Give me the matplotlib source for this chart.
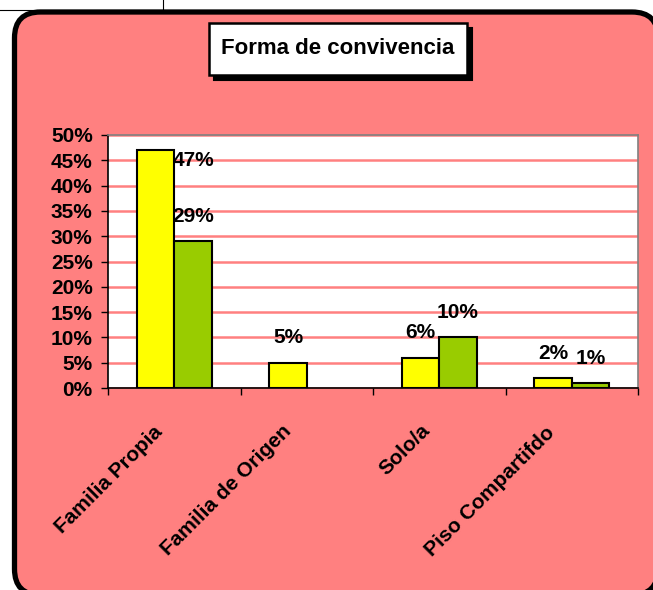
import matplotlib
matplotlib.use("Agg")
import matplotlib.pyplot as plt
import matplotlib.transforms as mtransforms
from matplotlib.patches import FancyBboxPatch, Rectangle
from matplotlib.lines import Line2D
import numpy as np

plt.rcParams["font.family"] = ["Liberation Sans", "DejaVu Sans"]
plt.rcParams["font.weight"] = "bold"

# data
title = "Forma de convivencia"
categories = ["Familia Propia", "Familia de Origen", "Solo/a", "Piso Compartifdo"]
serie_a = [47, 5, 6, 2]
serie_b = [29, None, 10, 1]
yticks = [0, 5, 10, 15, 20, 25, 30, 35, 40, 45, 50]

PINK = "#FF8080"
YELLOW = "#FFFF00"
GREEN = "#99CC00"

fig = plt.figure(figsize=(6.53, 5.90), dpi=100)
fig.patch.set_facecolor("white")
px = 1 / 100.0

# outer rounded frame (pixel coords converted to inches)
frame = FancyBboxPatch((14.5 * px, -5 * px), (658 - 14.5) * px, (578 + 5) * px,
                       boxstyle="round,pad=0,rounding_size=0.26",
                       transform=fig.dpi_scale_trans,
                       facecolor=PINK, edgecolor="black", linewidth=3.8, zorder=0)
fig.add_artist(frame)

# stray page lines at the top
fig.add_artist(Line2D([0, 163 * px], [580.5 * px, 580.5 * px], color="black", lw=0.8,
                      transform=fig.dpi_scale_trans, zorder=-1))
fig.add_artist(Line2D([163 * px, 163 * px], [580.5 * px, 590 * px], color="black", lw=0.8,
                      transform=fig.dpi_scale_trans, zorder=-1))

# title box with shadow
bx0, bx1, by0, by1 = 209, 467, 590 - 75, 590 - 23
fig.add_artist(Rectangle(((bx0 + 5) * px, (by0 - 5) * px), (bx1 - bx0) * px, (by1 - by0) * px,
                         transform=fig.dpi_scale_trans, facecolor="black",
                         edgecolor="black", lw=1.5, zorder=1))
fig.add_artist(Rectangle((bx0 * px, by0 * px), (bx1 - bx0) * px, (by1 - by0) * px,
                         transform=fig.dpi_scale_trans, facecolor="white",
                         edgecolor="black", lw=1.8, zorder=2))
fig.text((bx0 + bx1) / 2 / 653, (by0 + by1) / 2 / 590, title, ha="center", va="center",
         fontsize=16, fontweight="bold", zorder=3)

ax = fig.add_axes([108 / 653, 1 - 388 / 590, (638 - 108) / 653, (388 - 135) / 590])
ax.set_facecolor("white")

x = np.arange(len(categories))
w = 0.283
a_vals = [np.nan if v is None else v for v in serie_a]
b_vals = [np.nan if v is None else v for v in serie_b]
ax.bar(x - w / 2, a_vals, w, color=YELLOW, edgecolor="black", linewidth=1.5, zorder=3)
ax.bar(x + w / 2, b_vals, w, color=GREEN, edgecolor="black", linewidth=1.5, zorder=3)

ax.set_ylim(0, 50)
ax.set_xlim(-0.5, len(categories) - 0.5)
ax.set_yticks(yticks)
ax.set_yticklabels([f"{t}%" for t in yticks], fontsize=15, fontweight="bold")
ax.yaxis.grid(True, color=PINK, linewidth=1.8, zorder=1)
ax.set_axisbelow(True)

ax.set_xticks(np.arange(len(categories) + 1) - 0.5)
ax.set_xticklabels([])
ax.tick_params(axis="both", direction="out", length=5, width=1, color="black")
ax.tick_params(axis="y", pad=6)

for side in ["top", "right"]:
    ax.spines[side].set_color("#808080")
    ax.spines[side].set_linewidth(1.2)
for side in ["left", "bottom"]:
    ax.spines[side].set_color("black")
    ax.spines[side].set_linewidth(1.2)

# value labels
for xs, vals in [(x - w / 2, serie_a), (x + w / 2, serie_b)]:
    for xi, v in zip(xs, vals):
        if v is None:
            continue
        y = v + 4.9
        if y > 50:
            y = 45
            xi = xi + w
        ax.text(xi, y, f"{v}%", ha="center", va="center", fontsize=15,
                fontweight="bold", zorder=5)

# category labels, rotated
label_dx = [-21, -25, -19, -27]
label_dy = [-34, -33, -33, -35]
for xi, lab, dx, dy in zip(x, categories, label_dx, label_dy):
    off = mtransforms.ScaledTranslation(dx * px, dy * px, fig.dpi_scale_trans)
    ax.text(xi, 0, lab, rotation=45, rotation_mode="anchor", ha="right", va="top",
            fontsize=15, fontweight="bold", transform=ax.get_xaxis_transform() + off,
            clip_on=False)

fig.savefig("out.png", dpi=100)
